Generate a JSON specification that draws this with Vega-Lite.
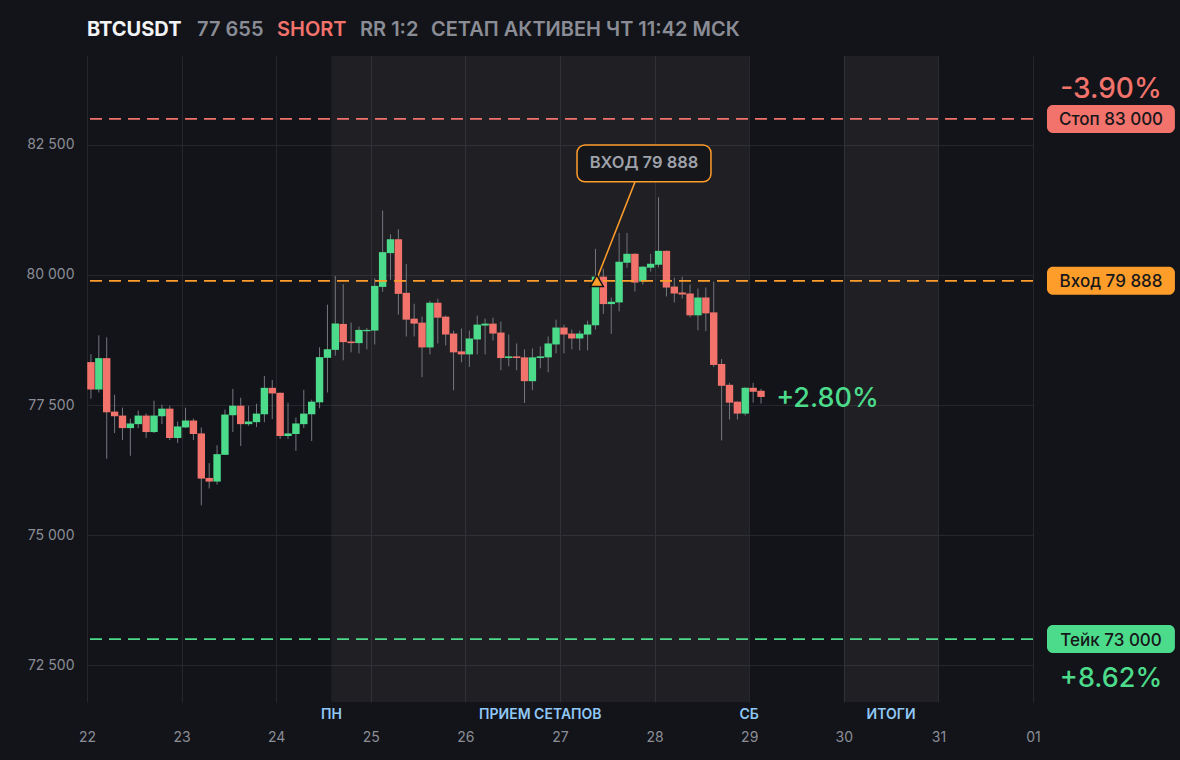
{
  "$schema": "https://vega.github.io/schema/vega-lite/v6.json",
  "width": 946,
  "height": 646,
  "autosize": "none",
  "padding": {"left": 87, "top": 56, "right": 147, "bottom": 58},
  "background": "#131419",
  "config": {"view": {"stroke": null}, "font": "Inter"},
  "datasets": {
    "bands": [
      {"start": "2025-03-24T14:00:00Z", "end": "2025-03-29T00:00:00Z"},
      {"start": "2025-03-30T00:00:00Z", "end": "2025-03-31T00:00:00Z"}
    ],
    "sessions": [
      {"t": "2025-03-24T14:00:00Z", "label": "ПН"},
      {"t": "2025-03-26T19:00:00Z", "label": "ПРИЕМ СЕТАПОВ"},
      {"t": "2025-03-29T00:00:00Z", "label": "СБ"},
      {"t": "2025-03-30T12:00:00Z", "label": "ИТОГИ"}
    ],
    "candles": [
      {"t": "2025-03-22T01:00:00Z", "o": 78325, "h": 78477, "l": 77621, "c": 77798},
      {"t": "2025-03-22T03:00:00Z", "o": 77798, "h": 78839, "l": 77741, "c": 78401},
      {"t": "2025-03-22T05:00:00Z", "o": 78401, "h": 78801, "l": 76466, "c": 77360},
      {"t": "2025-03-22T07:00:00Z", "o": 77373, "h": 77697, "l": 76961, "c": 77284},
      {"t": "2025-03-22T09:00:00Z", "o": 77297, "h": 77449, "l": 76827, "c": 77056},
      {"t": "2025-03-22T11:00:00Z", "o": 77056, "h": 77240, "l": 76523, "c": 77145},
      {"t": "2025-03-22T13:00:00Z", "o": 77132, "h": 77392, "l": 77056, "c": 77297},
      {"t": "2025-03-22T15:00:00Z", "o": 77297, "h": 77335, "l": 76866, "c": 76980},
      {"t": "2025-03-22T17:00:00Z", "o": 76980, "h": 77583, "l": 76961, "c": 77297},
      {"t": "2025-03-22T19:00:00Z", "o": 77284, "h": 77506, "l": 77132, "c": 77430},
      {"t": "2025-03-22T21:00:00Z", "o": 77430, "h": 77487, "l": 76827, "c": 76866},
      {"t": "2025-03-22T23:00:00Z", "o": 76866, "h": 77183, "l": 76770, "c": 77088},
      {"t": "2025-03-23T01:00:00Z", "o": 77069, "h": 77449, "l": 77056, "c": 77202},
      {"t": "2025-03-23T03:00:00Z", "o": 77202, "h": 77240, "l": 76827, "c": 76942},
      {"t": "2025-03-23T05:00:00Z", "o": 76954, "h": 77069, "l": 75571, "c": 76085},
      {"t": "2025-03-23T07:00:00Z", "o": 76098, "h": 76383, "l": 75895, "c": 76028},
      {"t": "2025-03-23T09:00:00Z", "o": 76028, "h": 76726, "l": 75971, "c": 76555},
      {"t": "2025-03-23T11:00:00Z", "o": 76542, "h": 77411, "l": 76542, "c": 77316},
      {"t": "2025-03-23T13:00:00Z", "o": 77303, "h": 77811, "l": 76980, "c": 77487},
      {"t": "2025-03-23T15:00:00Z", "o": 77487, "h": 77640, "l": 76713, "c": 77132},
      {"t": "2025-03-23T17:00:00Z", "o": 77132, "h": 77487, "l": 77100, "c": 77183},
      {"t": "2025-03-23T19:00:00Z", "o": 77170, "h": 77525, "l": 77075, "c": 77335},
      {"t": "2025-03-23T21:00:00Z", "o": 77322, "h": 78058, "l": 77170, "c": 77830},
      {"t": "2025-03-23T23:00:00Z", "o": 77830, "h": 77982, "l": 77227, "c": 77722},
      {"t": "2025-03-24T01:00:00Z", "o": 77735, "h": 77740, "l": 76847, "c": 76904},
      {"t": "2025-03-24T03:00:00Z", "o": 76904, "h": 77544, "l": 76847, "c": 76954},
      {"t": "2025-03-24T05:00:00Z", "o": 76942, "h": 77259, "l": 76618, "c": 77145},
      {"t": "2025-03-24T07:00:00Z", "o": 77132, "h": 77792, "l": 77056, "c": 77335},
      {"t": "2025-03-24T09:00:00Z", "o": 77322, "h": 77602, "l": 76808, "c": 77564},
      {"t": "2025-03-24T11:00:00Z", "o": 77551, "h": 78610, "l": 77437, "c": 78420},
      {"t": "2025-03-24T13:00:00Z", "o": 78407, "h": 79429, "l": 77741, "c": 78572},
      {"t": "2025-03-24T15:00:00Z", "o": 78560, "h": 79981, "l": 78450, "c": 79067},
      {"t": "2025-03-24T17:00:00Z", "o": 79059, "h": 79822, "l": 78359, "c": 78709},
      {"t": "2025-03-24T19:00:00Z", "o": 78721, "h": 79084, "l": 78512, "c": 78690},
      {"t": "2025-03-24T21:00:00Z", "o": 78690, "h": 79008, "l": 78492, "c": 78944},
      {"t": "2025-03-24T23:00:00Z", "o": 78919, "h": 78980, "l": 78569, "c": 78944},
      {"t": "2025-03-25T01:00:00Z", "o": 78931, "h": 79936, "l": 78664, "c": 79790},
      {"t": "2025-03-25T03:00:00Z", "o": 79771, "h": 81240, "l": 79676, "c": 80439},
      {"t": "2025-03-25T05:00:00Z", "o": 80420, "h": 80782, "l": 79905, "c": 80687},
      {"t": "2025-03-25T07:00:00Z", "o": 80687, "h": 80878, "l": 79237, "c": 79637},
      {"t": "2025-03-25T09:00:00Z", "o": 79657, "h": 80210, "l": 78817, "c": 79141},
      {"t": "2025-03-25T11:00:00Z", "o": 79160, "h": 79447, "l": 78817, "c": 79065},
      {"t": "2025-03-25T13:00:00Z", "o": 79084, "h": 79199, "l": 78034, "c": 78607},
      {"t": "2025-03-25T15:00:00Z", "o": 78607, "h": 79504, "l": 78473, "c": 79466},
      {"t": "2025-03-25T17:00:00Z", "o": 79466, "h": 79542, "l": 78683, "c": 79179},
      {"t": "2025-03-25T19:00:00Z", "o": 79199, "h": 79220, "l": 78645, "c": 78855},
      {"t": "2025-03-25T21:00:00Z", "o": 78874, "h": 78931, "l": 77786, "c": 78512},
      {"t": "2025-03-25T23:00:00Z", "o": 78531, "h": 78970, "l": 78321, "c": 78473},
      {"t": "2025-03-26T01:00:00Z", "o": 78473, "h": 78931, "l": 78232, "c": 78779},
      {"t": "2025-03-26T03:00:00Z", "o": 78760, "h": 79218, "l": 78473, "c": 79046},
      {"t": "2025-03-26T05:00:00Z", "o": 79027, "h": 79160, "l": 78473, "c": 79065},
      {"t": "2025-03-26T07:00:00Z", "o": 79065, "h": 79179, "l": 78741, "c": 78874},
      {"t": "2025-03-26T09:00:00Z", "o": 78893, "h": 79103, "l": 78168, "c": 78403},
      {"t": "2025-03-26T11:00:00Z", "o": 78403, "h": 78855, "l": 78244, "c": 78435},
      {"t": "2025-03-26T13:00:00Z", "o": 78435, "h": 78683, "l": 78168, "c": 78403},
      {"t": "2025-03-26T15:00:00Z", "o": 78416, "h": 78569, "l": 77538, "c": 77958},
      {"t": "2025-03-26T17:00:00Z", "o": 77958, "h": 78588, "l": 77786, "c": 78416},
      {"t": "2025-03-26T19:00:00Z", "o": 78403, "h": 78626, "l": 78206, "c": 78435},
      {"t": "2025-03-26T21:00:00Z", "o": 78416, "h": 78817, "l": 78130, "c": 78683},
      {"t": "2025-03-26T23:00:00Z", "o": 78664, "h": 79141, "l": 78492, "c": 78989},
      {"t": "2025-03-27T01:00:00Z", "o": 78989, "h": 79046, "l": 78492, "c": 78855},
      {"t": "2025-03-27T03:00:00Z", "o": 78874, "h": 78950, "l": 78569, "c": 78779},
      {"t": "2025-03-27T05:00:00Z", "o": 78779, "h": 78930, "l": 78550, "c": 78874},
      {"t": "2025-03-27T07:00:00Z", "o": 78855, "h": 79122, "l": 78550, "c": 79046},
      {"t": "2025-03-27T09:00:00Z", "o": 79033, "h": 80503, "l": 78950, "c": 79968},
      {"t": "2025-03-27T11:00:00Z", "o": 79968, "h": 80121, "l": 79250, "c": 79440},
      {"t": "2025-03-27T13:00:00Z", "o": 79440, "h": 79567, "l": 78868, "c": 79485},
      {"t": "2025-03-27T15:00:00Z", "o": 79472, "h": 80808, "l": 79300, "c": 80254},
      {"t": "2025-03-27T17:00:00Z", "o": 80235, "h": 80808, "l": 80140, "c": 80407},
      {"t": "2025-03-27T19:00:00Z", "o": 80407, "h": 80420, "l": 79682, "c": 79854},
      {"t": "2025-03-27T21:00:00Z", "o": 79873, "h": 80170, "l": 79816, "c": 80159},
      {"t": "2025-03-27T23:00:00Z", "o": 80140, "h": 80407, "l": 80064, "c": 80216},
      {"t": "2025-03-28T01:00:00Z", "o": 80197, "h": 81495, "l": 80146, "c": 80464},
      {"t": "2025-03-28T03:00:00Z", "o": 80464, "h": 80470, "l": 79587, "c": 79758},
      {"t": "2025-03-28T05:00:00Z", "o": 79777, "h": 79949, "l": 79472, "c": 79644},
      {"t": "2025-03-28T07:00:00Z", "o": 79663, "h": 79968, "l": 79548, "c": 79625},
      {"t": "2025-03-28T09:00:00Z", "o": 79644, "h": 79816, "l": 79186, "c": 79224},
      {"t": "2025-03-28T11:00:00Z", "o": 79224, "h": 79739, "l": 78938, "c": 79567},
      {"t": "2025-03-28T13:00:00Z", "o": 79567, "h": 79758, "l": 78919, "c": 79262},
      {"t": "2025-03-28T15:00:00Z", "o": 79281, "h": 79873, "l": 78232, "c": 78270},
      {"t": "2025-03-28T17:00:00Z", "o": 78289, "h": 78384, "l": 76819, "c": 77869},
      {"t": "2025-03-28T19:00:00Z", "o": 77888, "h": 77926, "l": 77220, "c": 77545},
      {"t": "2025-03-28T21:00:00Z", "o": 77564, "h": 77570, "l": 77220, "c": 77335},
      {"t": "2025-03-28T23:00:00Z", "o": 77335, "h": 77840, "l": 77297, "c": 77831},
      {"t": "2025-03-29T01:00:00Z", "o": 77831, "h": 77926, "l": 77545, "c": 77755},
      {"t": "2025-03-29T03:00:00Z", "o": 77774, "h": 77812, "l": 77526, "c": 77655}
    ],
    "levels": [
      {"name": "Стоп", "price": 83000, "label": "Стоп 83 000", "pct": "-3.90%"},
      {"name": "Вход", "price": 79888, "label": "Вход 79 888", "pct": ""},
      {"name": "Тейк", "price": 73000, "label": "Тейк 73 000", "pct": "+8.62%"}
    ],
    "entry": [
      {"t": "2025-03-27T09:20:00Z", "price": 79888, "label": "ВХОД 79 888"}
    ],
    "last": [
      {"price": 77655, "pct": "+2.80%"}
    ]
  },
  "layer": [
    {
      "data": {"name": "bands"},
      "mark": {"type": "rect", "color": "#ffffff", "opacity": 0.05},
      "encoding": {
        "x": {
          "field": "start", "type": "temporal", "title": null,
          "scale": {"type": "utc", "nice": false, "padding": 0,
            "domain": [{"year": 2025, "month": 3, "date": 22, "utc": true}, {"year": 2025, "month": 4, "date": 1, "utc": true}]},
          "axis": {"orient": "bottom", "format": "%d", "tickCount": {"interval": "day", "step": 1},
            "grid": true, "gridColor": "#26272d", "gridWidth": 1, "domain": false, "ticks": false, "labelFlush": false,
            "labelPadding": 28, "labelFontSize": 14, "labelColor": "#8b8e97", "labelFont": "Inter", "title": null}
        },
        "x2": {"field": "end"}
      }
    },
    {
      "data": {"name": "candles"},
      "mark": {"type": "rule", "color": "#74777f", "strokeWidth": 1},
      "encoding": {
        "x": {"field": "t", "type": "temporal", "title": null},
        "y": {"field": "l", "type": "quantitative", "title": null,
          "scale": {"domain": [71790, 84210], "nice": false, "zero": false, "padding": 0},
          "axis": {"values": [72500, 75000, 77500, 80000, 82500],
            "labelExpr": "replace(format(datum.value, ','), ',', ' ')",
            "grid": true, "gridColor": "#26272d", "gridWidth": 1, "domain": false, "ticks": false,
            "labelPadding": 13, "labelFontSize": 14, "labelColor": "#8b8e97", "labelFont": "Inter", "title": null}},
        "y2": {"field": "h"}
      }
    },
    {
      "data": {"name": "candles"},
      "mark": {"type": "bar", "size": 7.4},
      "encoding": {
        "x": {"field": "t", "type": "temporal", "title": null},
        "y": {"field": "o", "type": "quantitative", "title": null},
        "y2": {"field": "c"},
        "color": {"condition": {"test": "datum.c >= datum.o", "value": "#4cdb8b"}, "value": "#f2726c"}
      }
    },
    {
      "data": {"name": "levels"},
      "mark": {"type": "rule", "strokeDash": [12, 7], "strokeWidth": 1.7},
      "encoding": {
        "y": {"field": "price", "type": "quantitative", "title": null},
        "color": {"field": "name", "type": "nominal", "legend": null,
          "scale": {"domain": ["Стоп", "Вход", "Тейк"], "range": ["#f2726c", "#ff9d2b", "#4cdb8b"]}}
      }
    },
    {
      "data": {"name": "levels"},
      "mark": {"type": "bar", "orient": "horizontal", "size": 28, "cornerRadius": 6},
      "encoding": {
        "x": {"datum": {"year": 2025, "month": 4, "date": 1, "hours": 3, "minutes": 33, "utc": true}, "type": "temporal", "title": null},
        "x2": {"datum": {"year": 2025, "month": 4, "date": 2, "hours": 12, "minutes": 0, "utc": true}},
        "y": {"field": "price", "type": "quantitative", "title": null, "stack": null},
        "color": {"field": "name", "type": "nominal", "legend": null}
      }
    },
    {
      "data": {"name": "levels"},
      "mark": {"type": "text", "fontSize": 17, "fontWeight": 500, "color": "#16171a", "align": "center", "baseline": "middle", "dy": 1.5},
      "encoding": {
        "x": {"datum": {"year": 2025, "month": 4, "date": 1, "hours": 19, "minutes": 48, "utc": true}, "type": "temporal", "title": null},
        "y": {"field": "price", "type": "quantitative", "title": null},
        "text": {"field": "label"}
      }
    },
    {
      "data": {"name": "levels"},
      "transform": [{"filter": "datum.name == 'Стоп'"}],
      "mark": {"type": "text", "fontSize": 28, "fontWeight": 500, "align": "center", "baseline": "middle", "dy": -29},
      "encoding": {
        "x": {"datum": {"year": 2025, "month": 4, "date": 1, "hours": 19, "minutes": 48, "utc": true}, "type": "temporal", "title": null},
        "y": {"field": "price", "type": "quantitative", "title": null},
        "text": {"field": "pct"},
        "color": {"field": "name", "type": "nominal", "legend": null}
      }
    },
    {
      "data": {"name": "levels"},
      "transform": [{"filter": "datum.name == 'Тейк'"}],
      "mark": {"type": "text", "fontSize": 27, "fontWeight": 500, "align": "center", "baseline": "middle", "dy": 40},
      "encoding": {
        "x": {"datum": {"year": 2025, "month": 4, "date": 1, "hours": 19, "minutes": 48, "utc": true}, "type": "temporal", "title": null},
        "y": {"field": "price", "type": "quantitative", "title": null},
        "text": {"field": "pct"},
        "color": {"field": "name", "type": "nominal", "legend": null}
      }
    },
    {
      "data": {"name": "last"},
      "mark": {"type": "text", "fontSize": 27, "fontWeight": 500, "align": "left", "baseline": "middle", "color": "#4cdb8b", "dy": 2},
      "encoding": {
        "x": {"datum": {"year": 2025, "month": 3, "date": 29, "hours": 6, "minutes": 50, "utc": true}, "type": "temporal", "title": null},
        "y": {"field": "price", "type": "quantitative", "title": null},
        "text": {"field": "pct"}
      }
    },
    {
      "data": {"name": "entry"},
      "mark": {"type": "rule", "color": "#ff9d2b", "strokeWidth": 1.5},
      "encoding": {
        "x": {"datum": {"year": 2025, "month": 3, "date": 27, "hours": 19, "minutes": 2, "utc": true}, "type": "temporal", "title": null},
        "y": {"datum": 81790, "type": "quantitative", "title": null},
        "x2": {"datum": {"year": 2025, "month": 3, "date": 27, "hours": 9, "minutes": 20, "utc": true}},
        "y2": {"datum": 79920}
      }
    },
    {
      "data": {"name": "entry"},
      "mark": {"type": "point", "shape": "triangle-up", "size": 170, "filled": true, "fill": "#ff9d2b", "stroke": "#101114", "strokeWidth": 1.5, "opacity": 1},
      "encoding": {
        "x": {"field": "t", "type": "temporal", "title": null},
        "y": {"field": "price", "type": "quantitative", "title": null}
      }
    },
    {
      "data": {"name": "entry"},
      "mark": {"type": "rect", "fill": "#15161a", "stroke": "#ff9d2b", "strokeWidth": 1.5, "cornerRadius": 8},
      "encoding": {
        "x": {"datum": {"year": 2025, "month": 3, "date": 27, "hours": 4, "minutes": 19, "utc": true}, "type": "temporal", "title": null},
        "x2": {"datum": {"year": 2025, "month": 3, "date": 28, "hours": 14, "minutes": 18, "utc": true}},
        "y": {"datum": 82500, "type": "quantitative", "title": null},
        "y2": {"datum": 81790}
      }
    },
    {
      "data": {"name": "entry"},
      "mark": {"type": "text", "fontSize": 16.5, "fontWeight": 600, "color": "#9fa2aa", "align": "center", "baseline": "middle"},
      "encoding": {
        "x": {"datum": {"year": 2025, "month": 3, "date": 27, "hours": 21, "minutes": 19, "utc": true}, "type": "temporal", "title": null},
        "y": {"datum": 82147, "type": "quantitative", "title": null},
        "text": {"field": "label"}
      }
    },
    {
      "data": {"name": "sessions"},
      "mark": {"type": "text", "fontSize": 14, "fontWeight": 600, "color": "#90c8f6", "align": "center", "baseline": "middle"},
      "encoding": {
        "x": {"field": "t", "type": "temporal", "title": null},
        "y": {"datum": 71540, "type": "quantitative", "title": null},
        "text": {"field": "label"}
      }
    },
    {
      "data": {"values": [{"text": "BTCUSDT"}]},
      "mark": {"type": "text", "fontSize": 20, "fontWeight": 700, "color": "#f2f3f5", "align": "left", "baseline": "middle"},
      "encoding": {
        "x": {"datum": {"year": 2025, "month": 3, "date": 22, "hours": 0, "minutes": 0, "utc": true}, "type": "temporal", "title": null},
        "y": {"datum": 84710, "type": "quantitative", "title": null},
        "text": {"field": "text"}
      }
    },
    {
      "data": {"values": [{"text": "77 655"}]},
      "mark": {"type": "text", "fontSize": 20, "fontWeight": 600, "color": "#8a8d96", "align": "left", "baseline": "middle"},
      "encoding": {
        "x": {"datum": {"year": 2025, "month": 3, "date": 23, "hours": 3, "minutes": 55, "utc": true}, "type": "temporal", "title": null},
        "y": {"datum": 84710, "type": "quantitative", "title": null},
        "text": {"field": "text"}
      }
    },
    {
      "data": {"values": [{"text": "SHORT"}]},
      "mark": {"type": "text", "fontSize": 20, "fontWeight": 600, "color": "#f2726c", "align": "left", "baseline": "middle"},
      "encoding": {
        "x": {"datum": {"year": 2025, "month": 3, "date": 24, "hours": 0, "minutes": 12, "utc": true}, "type": "temporal", "title": null},
        "y": {"datum": 84710, "type": "quantitative", "title": null},
        "text": {"field": "text"}
      }
    },
    {
      "data": {"values": [{"text": "RR 1:2"}]},
      "mark": {"type": "text", "fontSize": 20, "fontWeight": 600, "color": "#8a8d96", "align": "left", "baseline": "middle"},
      "encoding": {
        "x": {"datum": {"year": 2025, "month": 3, "date": 24, "hours": 21, "minutes": 16, "utc": true}, "type": "temporal", "title": null},
        "y": {"datum": 84710, "type": "quantitative", "title": null},
        "text": {"field": "text"}
      }
    },
    {
      "data": {"values": [{"text": "СЕТАП АКТИВЕН ЧТ 11:42 МСК"}]},
      "mark": {"type": "text", "fontSize": 20, "fontWeight": 600, "color": "#8a8d96", "align": "left", "baseline": "middle"},
      "encoding": {
        "x": {"datum": {"year": 2025, "month": 3, "date": 25, "hours": 15, "minutes": 16, "utc": true}, "type": "temporal", "title": null},
        "y": {"datum": 84710, "type": "quantitative", "title": null},
        "text": {"field": "text"}
      }
    }
  ]
}
